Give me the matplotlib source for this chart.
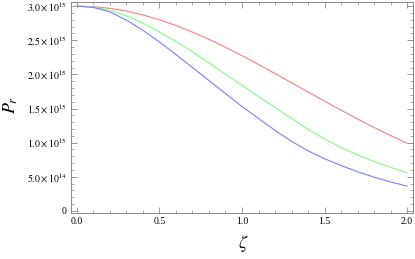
import matplotlib
matplotlib.use("Agg")
import matplotlib.pyplot as plt
from matplotlib.ticker import MultipleLocator, FuncFormatter

zeta = [0.0, 0.1, 0.2, 0.3, 0.4, 0.5, 0.6, 0.7, 0.8, 0.9, 1.0,
        1.1, 1.2, 1.3, 1.4, 1.5, 1.6, 1.7, 1.8, 1.9, 2.0]
red = [3.000, 2.992, 2.967, 2.926, 2.870, 2.799, 2.715, 2.619, 2.513, 2.397, 2.274,
       2.146, 2.013, 1.878, 1.743, 1.609, 1.476, 1.347, 1.223, 1.104, 0.991]
green = [3.000, 2.985, 2.940, 2.855, 2.750, 2.620, 2.480, 2.330, 2.170, 2.005, 1.840,
         1.675, 1.515, 1.355, 1.195, 1.055, 0.930, 0.820, 0.725, 0.640, 0.560]
blue = [3.000, 2.980, 2.915, 2.795, 2.645, 2.475, 2.290, 2.100, 1.910, 1.720, 1.530,
        1.355, 1.180, 1.020, 0.880, 0.765, 0.665, 0.575, 0.495, 0.425, 0.365]
scale = 1e15
ytick_labels = {0: "0", 1: r"$5.0\times10^{14}$", 2: r"$1.0\times10^{15}$",
                3: r"$1.5\times10^{15}$", 4: r"$2.0\times10^{15}$",
                5: r"$2.5\times10^{15}$", 6: r"$3.0\times10^{15}$"}

plt.rcParams['mathtext.fontset'] = 'stix'
plt.rcParams['font.family'] = ['Liberation Serif', 'DejaVu Serif']

fig = plt.figure(figsize=(4.15, 2.59), dpi=100)
ax = fig.add_axes([71/415, 1-213/259, (413-71)/415, (213-2)/259])

ax.plot(zeta, [v*scale for v in red], color='#ff7f7f', lw=0.8)
ax.plot(zeta, [v*scale for v in green], color='#7fff7f', lw=0.8)
ax.plot(zeta, [v*scale for v in blue], color='#7f7fff', lw=0.8)

ax.set_xlim(-0.036, 2.036)
ax.set_ylim(-0.03e15, 3.06e15)

ax.xaxis.set_major_locator(MultipleLocator(0.5))
ax.xaxis.set_minor_locator(MultipleLocator(0.1))
ax.yaxis.set_major_locator(MultipleLocator(0.5e15))
ax.yaxis.set_minor_locator(MultipleLocator(0.1e15))
ax.xaxis.set_major_formatter(FuncFormatter(lambda v, p: f"{v:.1f}"))
ax.yaxis.set_major_formatter(FuncFormatter(lambda v, p: ytick_labels.get(int(round(v/0.5e15)), "")))

ax.tick_params(which='both', direction='in', top=True, right=True, color='#888888',
               labelsize=7, pad=3)
ax.tick_params(which='major', length=4, width=0.6)
ax.tick_params(which='minor', length=2, width=0.5)
for s in ax.spines.values():
    s.set_color('#888888')
    s.set_linewidth(0.7)

fig.text(11/415, 1-105/259, r"$P_r$", fontsize=13, rotation=90, ha='center', va='center')
fig.text(243/415, 1-243/259, r"$\zeta$", fontsize=13, ha='center', va='center')

fig.savefig("out.png", dpi=100)
